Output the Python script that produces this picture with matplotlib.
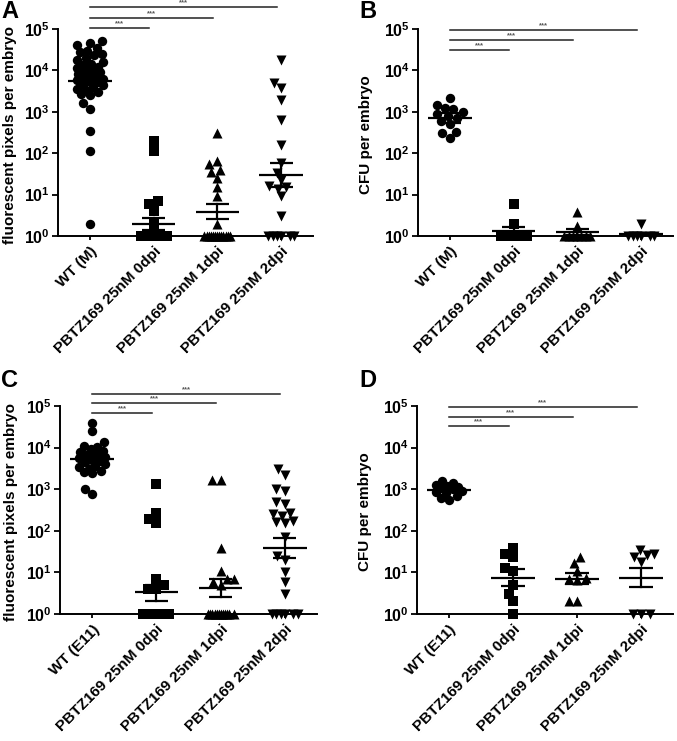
import numpy as np
import matplotlib
matplotlib.use("Agg")
import matplotlib.pyplot as plt

plt.rcParams['font.family'] = ['Liberation Sans', 'DejaVu Sans']
plt.rcParams['font.weight'] = 'bold'
plt.rcParams['mathtext.fontset'] = 'custom'
plt.rcParams['mathtext.rm'] = 'Liberation Sans:bold'
plt.rcParams['mathtext.it'] = 'Liberation Sans:bold:italic'
plt.rcParams['mathtext.bf'] = 'Liberation Sans:bold'

# ---------------- data ----------------
groups_M = ["WT (M)", "PBTZ169 25nM 0dpi", "PBTZ169 25nM 1dpi", "PBTZ169 25nM 2dpi"]
groups_E = ["WT (E11)", "PBTZ169 25nM 0dpi", "PBTZ169 25nM 1dpi", "PBTZ169 25nM 2dpi"]

A_wt = [52000, 46000, 42000, 35000, 30000, 27500, 25000, 24000, 20000, 17800,
        15800, 14500, 13200, 12000, 11200, 10500, 10000, 9300, 8900, 8300,
        7900, 7400, 6900, 6300, 6000, 5600, 5200, 4800, 4400, 4000,
        3600, 3300, 3000, 2700, 2500, 1600, 1200, 340, 110, 2]
A_d0 = [200, 110, 7, 6, 4, 2] + [1] * 19
A_d1 = [300, 65, 55, 40, 35, 25, 15, 9, 2] + [1] * 13
A_d2 = [18000, 5000, 3800, 1950, 650, 155, 58, 33, 22, 16, 15, 14, 9, 3] + [1] * 6
A_mean = [5700, 1.9, 3.9, 29]
A_lo = [4600, 1.4, 2.6, 15]
A_hi = [7000, 2.65, 5.9, 58]

B_wt = [2100, 1450, 1250, 1150, 1000, 900, 800, 700, 600, 520, 320, 300, 230]
B_d0 = [6, 2] + [1] * 8
B_d1 = [3.9, 1.7] + [1] * 7
B_d2 = [2] + [1] * 6
B_mean = [700, 1.3, 1.25, 1.1]
B_lo = [540, 1.08, 1.05, 1.02]
B_hi = [920, 1.65, 1.5, 1.2]

C_wt = [40000, 25000, 14000, 11000, 10500, 9500, 8500, 8000, 7000, 6500,
        6000, 5500, 5000, 4700, 4400, 4000, 3700, 3400, 3000, 2800,
        2600, 2400, 1000, 750]
C_d0 = [1300, 270, 190, 150, 7, 5, 4, 4] + [1] * 16
C_d1 = [1700, 1700, 38, 11, 7, 7, 6, 5] + [1] * 12
C_d2 = [3000, 2200, 1000, 900, 500, 450, 270, 250, 230, 170, 160, 150,
        70, 25, 20, 10, 6, 3] + [1] * 6
C_mean = [5300, 3.3, 4.2, 38]
C_lo = [4300, 2.1, 2.5, 22]
C_hi = [6500, 5.0, 7.0, 68]

D_wt = [1600, 1400, 1250, 1200, 1150, 1050, 1000, 900, 850, 800, 700, 600, 550]
D_d0 = [38, 28, 23, 13, 11, 5, 3, 2, 1]
D_d1 = [24, 17, 11, 7.5, 7, 6.5, 2, 2]
D_d2 = [35, 28, 26, 24, 18, 1, 1, 1]
D_mean = [950, 7.5, 7.0, 7.5]
D_lo = [850, 4.7, 5.3, 4.5]
D_hi = [1070, 12, 9.5, 12.5]

yticks = [1, 10, 100, 1000, 10000, 100000]
ytick_labels = [r'$\mathrm{10^{%d}}$' % k for k in range(6)]
markers = ['o', 's', '^', 'v']
sizes = [46, 42, 52, 52]

# ---------------- layout ----------------
W, H = 677, 741
fig = plt.figure(figsize=(W / 100, H / 100), dpi=100)
FS = 11


def px_axes(l, t, r, b):
    return fig.add_axes([l / W, 1 - b / H, (r - l) / W, (b - t) / H])


def swarm(ax, xc, vals, diam, max_half):
    trans = ax.transData
    pts = np.column_stack([np.full(len(vals), xc, dtype=float), np.asarray(vals, float)])
    ypx = trans.transform(pts)[:, 1]
    order = np.argsort(ypx, kind='stable')
    cands = np.arange(0, max_half + 0.01, 0.5)
    cands = sorted(set(np.round(np.concatenate([cands, -cands]), 2)), key=lambda c: (abs(c), c))
    placed = []
    offs = np.zeros(len(vals))
    for i in order:
        y = ypx[i]
        best, bestd = 0.0, -1.0
        for c in cands:
            if placed:
                arr = np.array(placed)
                md = np.min(np.hypot(arr[:, 0] - c, arr[:, 1] - y))
            else:
                md = np.inf
            if md >= diam:
                best = c
                break
            if md > bestd:
                bestd, best = md, c
        offs[i] = best
        placed.append((best, y))
    ppu = trans.transform((1, 1))[0] - trans.transform((0, 1))[0]
    return xc + offs / ppu


def panel(ax, series, mean, lo, hi, labels, ylabel, sig_y, letter, letter_xy, ylab_x):
    ax.set_yscale('log')
    ax.set_ylim(1, 1e5)
    ax.set_xlim(-0.5, 3.5)
    for s in ['top', 'right']:
        ax.spines[s].set_visible(False)
    for s in ['left', 'bottom']:
        ax.spines[s].set_linewidth(1.4)
    ax.set_yticks(yticks)
    ax.set_yticklabels(ytick_labels, fontsize=FS + 0.5)
    ax.yaxis.set_minor_locator(matplotlib.ticker.NullLocator())
    ax.tick_params(axis='y', direction='out', length=4, width=1.3, pad=2)
    ax.tick_params(axis='x', direction='out', length=3, width=1.3, pad=3)
    ax.set_xticks(range(4))
    ax.set_xticklabels(labels, rotation=45, ha='right', va='top',
                       rotation_mode='anchor', fontsize=FS, fontweight='bold')
    ax.set_ylabel(ylabel, fontsize=FS, fontweight='bold')
    ax.yaxis.set_label_coords(ylab_x, 0.49)
    for i, vals in enumerate(series):
        xs = swarm(ax, i, vals, 8.5, 13)
        ax.scatter(xs, vals, marker=markers[i], s=sizes[i], c='black',
                   linewidths=0, clip_on=False, zorder=3)
        ax.plot([i - 0.34, i + 0.34], [mean[i], mean[i]], color='black', lw=1.6, zorder=4,
                solid_capstyle='butt')
        ax.plot([i, i], [lo[i], hi[i]], color='black', lw=1.6, zorder=4)
        for v in (lo[i], hi[i]):
            ax.plot([i - 0.18, i + 0.18], [v, v], color='black', lw=1.6, zorder=4,
                    solid_capstyle='butt')
    tr = matplotlib.transforms.blended_transform_factory(ax.transData, ax.transAxes)
    for k, yy in enumerate(sig_y):
        x1 = k + 1 - 0.07
        ax.plot([0.0, x1], [yy, yy], color='#222222', lw=1.1, transform=tr, clip_on=False)
        ax.text((0.0 + x1) / 2, yy + 0.004, '***', fontsize=5.5, color='#555555',
                ha='center', va='bottom', transform=tr)
    fig.text(letter_xy[0] / W, 1 - letter_xy[1] / H, letter, fontsize=17,
             fontweight='bold', ha='left', va='top')


axA = px_axes(58, 29, 313, 236)
axB = px_axes(418, 29, 673, 236)
axC = px_axes(60, 406, 317, 614)
axD = px_axes(417, 406, 673, 614)

panel(axA, [A_wt, A_d0, A_d1, A_d2], A_mean, A_lo, A_hi, groups_M,
      'fluorescent pixels per embryo', [1.005, 1.053, 1.106], 'A', (1, 0), -0.16)
panel(axB, [B_wt, B_d0, B_d1, B_d2], B_mean, B_lo, B_hi, groups_M,
      'CFU per embryo', [0.90, 0.947, 0.995], 'B', (359, 0), -0.175)
panel(axC, [C_wt, C_d0, C_d1, C_d2], C_mean, C_lo, C_hi, groups_E,
      'fluorescent pixels per embryo', [0.966, 1.014, 1.058], 'C', (1, 369), -0.165)
panel(axD, [D_wt, D_d0, D_d1, D_d2], D_mean, D_lo, D_hi, groups_E,
      'CFU per embryo', [0.904, 0.947, 0.995], 'D', (359, 369), -0.175)

fig.savefig('out.png', dpi=100)
